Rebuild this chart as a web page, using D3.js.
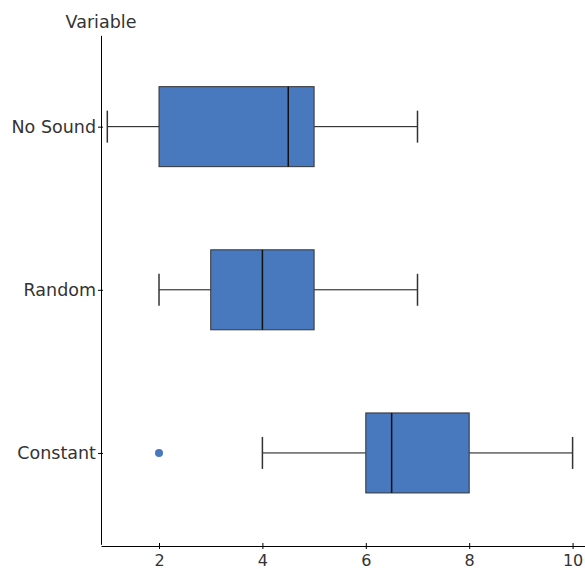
<!DOCTYPE html>
<html><head><meta charset="utf-8">
<script src="https://cdn.jsdelivr.net/npm/d3@7"></script>
<style>body{margin:0;background:#fff}svg{display:block}text{font-family:"DejaVu Sans",Verdana,sans-serif;fill:#333}</style>
</head><body>
<svg id="c" width="585" height="569"></svg>
<script>
const categories = ["No Sound", "Random", "Constant"];
const whiskerLow = [1, 2, 4];
const q1 = [2, 3, 6];
const median = [4.5, 4, 6.5];
const q3 = [5, 5, 8];
const whiskerHigh = [7, 7, 10];
const outliers = [[], [], [2]];
const xTicks = [2, 4, 6, 8, 10];
const yTitle = "Variable";

const svg = d3.select("#c");
const x = d3.scaleLinear().domain([0.878, 10.24]).range([101, 585]);
const y = d3.scalePoint().domain(categories).range([35.3, 544.3]).padding(0.56);
const boxH = 80, capH = 32;
const fill = "#4878be";

const data = categories.map((c, i) => ({c, lo: whiskerLow[i], q1: q1[i], med: median[i], q3: q3[i], hi: whiskerHigh[i], out: outliers[i]}));

const g = svg.append("g");
data.forEach(d => {
  const cy = y(d.c);
  g.append("line").attr("x1", x(d.lo)).attr("x2", x(d.q1)).attr("y1", cy).attr("y2", cy).attr("stroke", "#111").attr("stroke-width", 1);
  g.append("line").attr("x1", x(d.q3)).attr("x2", x(d.hi)).attr("y1", cy).attr("y2", cy).attr("stroke", "#111").attr("stroke-width", 1);
  [d.lo, d.hi].forEach(v => g.append("line").attr("x1", x(v)).attr("x2", x(v)).attr("y1", cy - capH/2).attr("y2", cy + capH/2).attr("stroke", "#333").attr("stroke-width", 1.5));
  g.append("rect").attr("x", x(d.q1)).attr("y", cy - boxH/2).attr("width", x(d.q3) - x(d.q1)).attr("height", boxH).attr("fill", fill).attr("stroke", "#333").attr("stroke-width", 1);
  g.append("line").attr("x1", x(d.med)).attr("x2", x(d.med)).attr("y1", cy - boxH/2).attr("y2", cy + boxH/2).attr("stroke", "#111").attr("stroke-width", 1.5);
  d.out.forEach(v => g.append("circle").attr("cx", x(v)).attr("cy", cy).attr("r", 4).attr("fill", fill));
});

// x axis
const xa = svg.append("g").attr("transform", "translate(0,546)")
  .call(d3.axisBottom(x).tickValues(xTicks).tickSize(3).tickSizeOuter(0));
xa.select(".domain").attr("stroke", "#000");
xa.selectAll(".tick line").attr("y1", -3).attr("y2", 3).attr("stroke", "#000");
xa.selectAll(".tick text").attr("y", 9).attr("font-size", 16).attr("fill", "#3a3a3a").attr("font-family", '"DejaVu Sans",Verdana,sans-serif');

// y axis
const ya = svg.append("g").attr("transform", "translate(101,0)")
  .call(d3.axisLeft(y).tickSize(3).tickSizeOuter(0));
ya.select(".domain").attr("stroke", "#000");
ya.selectAll(".tick line").attr("x1", -3).attr("x2", 2).attr("stroke", "#000");
ya.selectAll(".tick text").attr("x", -5).attr("font-size", 17.5).attr("fill", "#3a3a3a").attr("font-family", '"DejaVu Sans",Verdana,sans-serif');

svg.append("text").attr("x", 101).attr("y", 28).attr("text-anchor", "middle").attr("font-size", 17.5).attr("fill", "#3a3a3a").text(yTitle);
</script>
</body></html>
